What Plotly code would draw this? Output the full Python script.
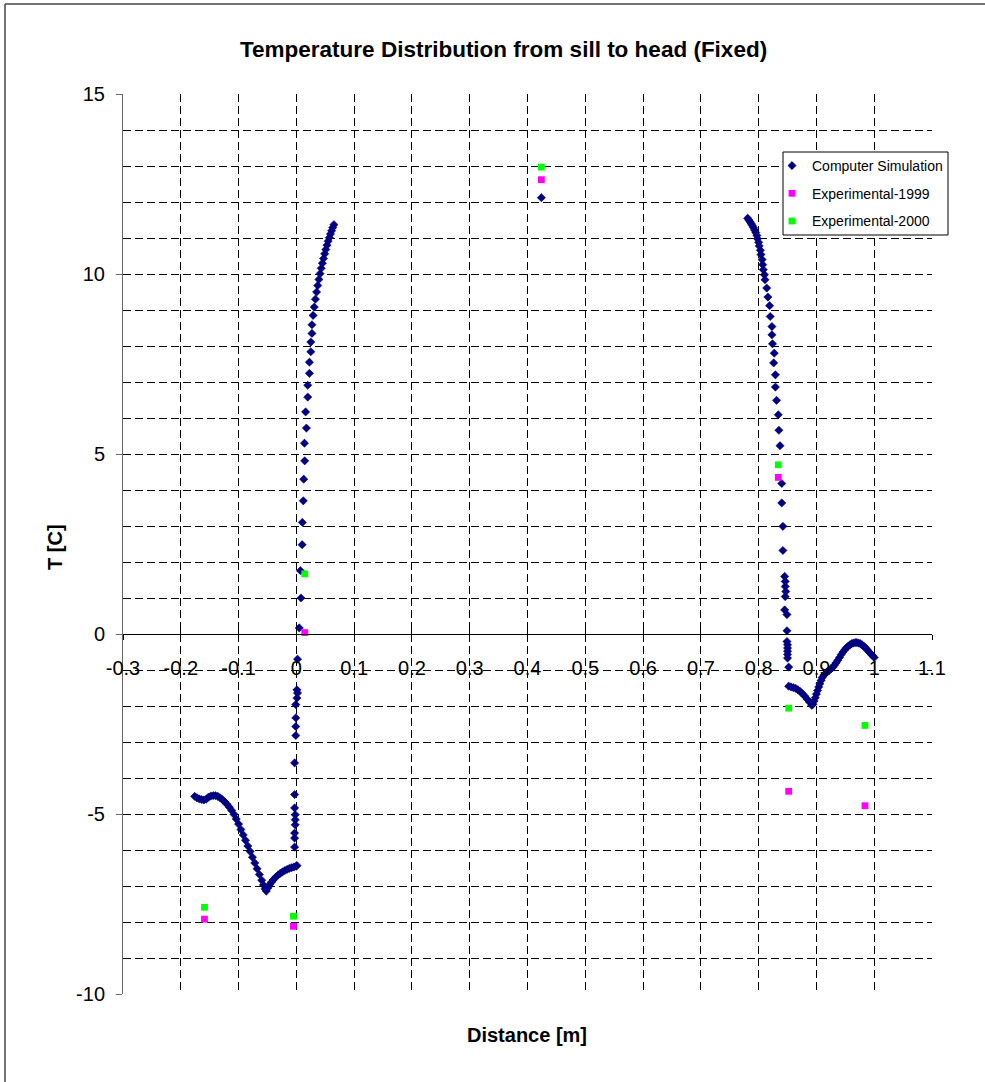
import plotly.graph_objects as go

# ---------------- data ----------------
sim_x = [
    -0.176, -0.172, -0.168, -0.164, -0.160, -0.156, -0.152, -0.148, -0.144, -0.140,
    -0.136, -0.132, -0.128, -0.124, -0.120, -0.116, -0.112, -0.108, -0.104, -0.100,
    -0.096, -0.092, -0.088, -0.084, -0.080, -0.076, -0.072, -0.068, -0.064, -0.060,
    -0.057, -0.054, -0.052, -0.049, -0.046, -0.043, -0.040, -0.036, -0.032, -0.028,
    -0.024, -0.020, -0.016, -0.012, -0.008, -0.004, 0.000, 0.001,
    -0.003, -0.003, -0.003, -0.002, -0.002, -0.002, -0.003, -0.003, -0.003, -0.001,
    -0.001, -0.001, -0.001, 0.001, 0.002, 0.001,
    0.002, 0.005, 0.008, 0.007, 0.010, 0.0104, 0.012, 0.0127, 0.0144, 0.014,
    0.0174, 0.016, 0.0197, 0.0197, 0.0226, 0.0226, 0.025, 0.025, 0.027, 0.027,
    0.029, 0.031, 0.033, 0.035, 0.037, 0.039, 0.041, 0.043, 0.045, 0.047,
    0.049, 0.051, 0.053, 0.055, 0.057, 0.059, 0.061, 0.063, 0.065,
    0.424,
    0.781, 0.783, 0.785, 0.787, 0.789, 0.791, 0.793, 0.795, 0.797, 0.798,
    0.800, 0.801, 0.803, 0.804, 0.806, 0.807, 0.808, 0.810, 0.811, 0.814,
    0.816, 0.819, 0.820, 0.823, 0.823, 0.824, 0.827, 0.826, 0.829, 0.829,
    0.831, 0.834, 0.835, 0.837, 0.840, 0.840, 0.842, 0.842, 0.845, 0.846,
    0.846, 0.847, 0.846, 0.845, 0.849, 0.849, 0.849, 0.850, 0.850, 0.850,
    0.850, 0.850, 0.852,
    0.852, 0.856, 0.860, 0.864, 0.868, 0.872, 0.876, 0.880, 0.884, 0.888,
    0.892, 0.894, 0.896, 0.898, 0.900, 0.902, 0.904, 0.906, 0.908, 0.910,
    0.913, 0.916, 0.919, 0.922, 0.925, 0.928, 0.931, 0.934, 0.937, 0.940,
    0.943, 0.946, 0.949, 0.952, 0.955, 0.958, 0.961, 0.964, 0.967, 0.970,
    0.973, 0.976, 0.979, 0.982, 0.985, 0.988, 0.991, 0.994, 0.997, 1.000,
]
sim_y = [
    -4.51, -4.55, -4.58, -4.60, -4.61, -4.59, -4.53, -4.50, -4.49, -4.49,
    -4.51, -4.55, -4.60, -4.66, -4.73, -4.81, -4.90, -5.01, -5.14, -5.28,
    -5.43, -5.58, -5.73, -5.89, -6.04, -6.20, -6.36, -6.52, -6.68, -6.84,
    -6.97, -7.08, -7.14, -7.05, -6.96, -6.89, -6.83, -6.76, -6.70, -6.65,
    -6.61, -6.57, -6.54, -6.51, -6.49, -6.47, -6.45, -6.43,
    -5.92, -5.67, -5.53, -5.30, -5.16, -5.02, -4.83, -4.46, -3.58, -2.82,
    -2.57, -2.33, -1.96, -1.78, -1.64, -1.55,
    -0.70, 0.17, 1.00, 1.76, 2.48, 3.10, 3.70, 4.30, 4.81, 5.30,
    5.72, 6.17, 6.58, 6.91, 7.24, 7.55, 7.84, 8.11, 8.35, 8.59,
    8.85, 9.08, 9.30, 9.50, 9.68, 9.85, 10.01, 10.16, 10.30, 10.43,
    10.56, 10.68, 10.80, 10.91, 11.01, 11.11, 11.20, 11.29, 11.37,
    12.12,
    11.55, 11.50, 11.45, 11.40, 11.35, 11.29, 11.22, 11.15, 11.07, 10.98,
    10.88, 10.78, 10.66, 10.54, 10.40, 10.26, 10.12, 9.98, 9.84, 9.61,
    9.36, 9.12, 8.82, 8.54, 8.31, 8.06, 7.80, 7.53, 7.20, 6.86,
    6.49, 6.09, 5.66, 5.23, 4.18, 3.64, 2.99, 2.32, 1.60, 1.46,
    1.32, 1.18, 1.04, 0.67, 0.54, 0.09, -0.21, -0.30, -0.39, -0.48,
    -0.57, -0.67, -0.92,
    -1.45, -1.47, -1.49, -1.51, -1.55, -1.60, -1.66, -1.73, -1.81, -1.89,
    -1.98, -1.95, -1.86, -1.77, -1.67, -1.57, -1.47, -1.38, -1.29, -1.21,
    -1.14, -1.09, -1.05, -1.01, -0.97, -0.93, -0.87, -0.80, -0.73, -0.65,
    -0.57, -0.50, -0.44, -0.38, -0.34, -0.30, -0.27, -0.25, -0.24, -0.24,
    -0.25, -0.27, -0.30, -0.34, -0.39, -0.44, -0.50, -0.55, -0.60, -0.65,
]

exp1999_x = [-0.159, -0.005, 0.0145, 0.424, 0.834, 0.852, 0.984]
exp1999_y = [-7.92, -8.12, 0.04, 12.62, 4.35, -4.37, -4.77]

exp2000_x = [-0.159, -0.005, 0.0145, 0.424, 0.834, 0.852, 0.984]
exp2000_y = [-7.59, -7.84, 1.67, 12.97, 4.70, -2.06, -2.54]

x_tick_vals = [-0.3, -0.2, -0.1, 0.0, 0.1, 0.2, 0.3, 0.4, 0.5, 0.6, 0.7, 0.8, 0.9, 1.0, 1.1]
x_tick_text = ["-0.3", "-0.2", "-0.1", "0", "0.1", "0.2", "0.3", "0.4", "0.5", "0.6",
               "0.7", "0.8", "0.9", "1", "1.1"]
y_grid_vals = list(range(-10, 16))
y_tick_vals = [-10, -5, 0, 5, 10, 15]
y_tick_text = ["-10", "-5", "0", "5", "10", "15"]

title_text = "Temperature Distribution from sill to head (Fixed)"
x_title = "Distance [m]"
y_title = "T [C]"

# ---------------- figure ----------------
FONT = "Arial, 'Liberation Sans', sans-serif"
W, H = 985, 1082
ML, MR, MT, MB = 123, 53, 94, 88
PW, PH = W - ML - MR, H - MT - MB


def px_x(p):
    return (p - ML) / PW


def px_y(p):
    return (H - MB - p) / PH


fig = go.Figure()
fig.add_trace(go.Scatter(
    x=sim_x, y=sim_y, mode="markers", name="Computer Simulation",
    legendgroup="a",
    marker=dict(symbol="diamond", size=6.3, color="#000080",
                line=dict(width=0.6, color="#000080")),
))
fig.add_trace(go.Scatter(
    x=exp1999_x, y=exp1999_y, mode="markers", name="Experimental-1999",
    legendgroup="b",
    marker=dict(symbol="square", size=6.8, color="#FF00FF", line=dict(width=0)),
))
fig.add_trace(go.Scatter(
    x=exp2000_x, y=exp2000_y, mode="markers", name="Experimental-2000",
    legendgroup="c",
    marker=dict(symbol="square", size=6.8, color="#00FF00", line=dict(width=0)),
))
# helpers to make the overlay axes exist
fig.add_trace(go.Scatter(x=[], y=[], xaxis="x2", yaxis="y", showlegend=False, hoverinfo="skip"))
fig.add_trace(go.Scatter(x=[], y=[], xaxis="x", yaxis="y2", showlegend=False, hoverinfo="skip"))

grid = dict(showgrid=True, gridcolor="#000000", gridwidth=1, griddash="8px,4px")

fig.update_layout(
    width=W, height=H,
    margin=dict(l=ML, r=MR, t=MT, b=MB, pad=0),
    paper_bgcolor="white", plot_bgcolor="white",
    font=dict(family=FONT, size=20, color="black"),
    showlegend=True,
    legend=dict(
        x=px_x(772), y=px_y(150), xanchor="left", yanchor="top",
        bgcolor="rgba(0,0,0,0)", borderwidth=0,
        font=dict(family=FONT, size=14, color="black"),
        tracegroupgap=6.5, itemsizing="trace",
    ),
    xaxis=dict(
        range=[-0.3, 1.1], tickmode="array", tickvals=x_tick_vals, ticktext=x_tick_text,
        ticks="outside", ticklen=5, tickwidth=1, tickcolor="black",
        anchor="free", position=10 / 25,
        showline=True, linecolor="black", linewidth=1,
        zeroline=False, ticklabelstandoff=11,
        tickfont=dict(family=FONT, size=20, color="black"),
        **grid,
    ),
    xaxis2=dict(
        range=[-0.3, 1.1], overlaying="x", tickmode="array", tickvals=x_tick_vals,
        ticks="inside", ticklen=5, tickwidth=1, tickcolor="black",
        anchor="free", position=10 / 25, showticklabels=False,
        showgrid=False, showline=False, zeroline=False,
    ),
    yaxis=dict(
        range=[-10, 15], tickmode="array", tickvals=y_grid_vals,
        showticklabels=False, ticks="",
        showline=True, linecolor="#666666", linewidth=1.3,
        zeroline=False,
        **grid,
    ),
    yaxis2=dict(
        range=[-10, 15], overlaying="y", side="left", anchor="x",
        tickmode="array", tickvals=y_tick_vals, ticktext=y_tick_text,
        ticks="outside", ticklen=6, tickwidth=1.3, tickcolor="#666666",
        showgrid=False, showline=False, zeroline=False,
        ticklabelstandoff=7,
        tickfont=dict(family=FONT, size=20, color="black"),
    ),
    shapes=[
        dict(type="line", xref="paper", yref="paper",
             x0=px_x(5), x1=px_x(1000), y0=px_y(4), y1=px_y(4),
             line=dict(color="#444444", width=1.5)),
        dict(type="line", xref="paper", yref="paper",
             x0=px_x(5), x1=px_x(5), y0=px_y(4), y1=px_y(1100),
             line=dict(color="#444444", width=1.5)),
        dict(type="rect", xref="paper", yref="paper",
             x0=px_x(783), x1=px_x(948), y0=px_y(235), y1=px_y(152),
             line=dict(color="black", width=1), fillcolor="white", layer="above"),
    ],
    annotations=[
        dict(text="<b>" + title_text + "</b>", xref="paper", yref="paper",
             x=px_x(503), y=px_y(50), xanchor="center", yanchor="middle",
             showarrow=False, font=dict(family=FONT, size=22.5, color="black")),
        dict(text="<b>" + x_title + "</b>", xref="paper", yref="paper",
             x=px_x(527), y=px_y(1035), xanchor="center", yanchor="middle",
             showarrow=False, font=dict(family=FONT, size=20, color="black")),
        dict(text="<b>" + y_title + "</b>", xref="paper", yref="paper",
             x=px_x(55), y=px_y(547), xanchor="center", yanchor="middle",
             textangle=-90, showarrow=False, font=dict(family=FONT, size=20, color="black")),
    ],
)

fig.write_html("out.html")
